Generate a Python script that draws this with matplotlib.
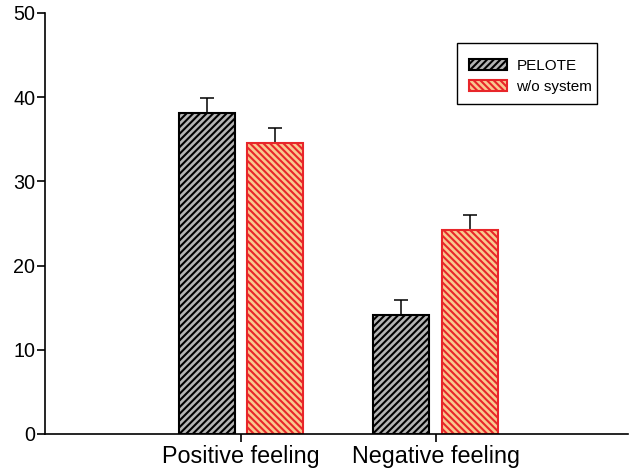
import matplotlib
matplotlib.use("Agg")
import matplotlib.pyplot as plt
from matplotlib.patches import Rectangle
import numpy as np

plt.rcParams["font.family"] = ["Liberation Sans", "DejaVu Sans"]
plt.rcParams["hatch.linewidth"] = 1.5

categories = ["Positive feeling", "Negative feeling"]
pelote = [38.1, 14.1]
pelote_err = [1.8, 1.8]
wo_system = [34.5, 24.2]
wo_err = [1.8, 1.8]

x = np.array([1, 2])
w = 0.288
off = 0.175

fig = plt.figure(figsize=(6.31, 4.70), dpi=100)
ax = fig.add_axes([0.0713, 0.0766, 0.924, 0.896])

ax.bar(x - off, pelote, width=w, color="#b4b4b4", edgecolor="black",
       hatch="/////", linewidth=1.5, label="PELOTE", zorder=2)
ax.bar(x + off, wo_system, width=w, color="#f9c88f", edgecolor="#e8262a",
       hatch="\\\\\\\\\\", linewidth=1.5, label="w/o system", zorder=2)

ax.errorbar(x - off, pelote, yerr=[[0, 0], pelote_err], fmt="none",
            ecolor="black", elinewidth=1.1, capsize=4.7, capthick=1.1, zorder=1)
ax.errorbar(x + off, wo_system, yerr=[[0, 0], wo_err], fmt="none",
            ecolor="black", elinewidth=1.1, capsize=4.7, capthick=1.1, zorder=1)

ax.set_xlim(-0.008, 2.99)
ax.set_ylim(0, 50)
ax.set_yticks([0, 10, 20, 30, 40, 50])
ax.set_xticks(x)
ax.set_xticklabels(categories, fontsize=16.8)
ax.tick_params(axis="y", labelsize=14.2, length=6, width=1.2, direction="out", pad=1)
ax.tick_params(axis="x", length=6, width=1.2, direction="out", pad=2)

ax.spines["top"].set_visible(False)
ax.spines["right"].set_visible(False)
ax.spines["left"].set_linewidth(1.2)
ax.spines["bottom"].set_linewidth(1.2)

# legend box drawn by hand (tight on the right like the original)
ax.add_patch(Rectangle((0.7067, 0.7838), 0.2401, 0.1449, transform=ax.transAxes,
                       facecolor="white", edgecolor="black", linewidth=1.0,
                       zorder=4, clip_on=False))
leg = ax.legend(loc="upper left", bbox_to_anchor=(0.7273, 0.891), borderaxespad=0,
                fontsize=11, frameon=False, borderpad=0,
                handlelength=2.5, handleheight=0.75,
                handletextpad=0.6, labelspacing=0.45)
leg.set_zorder(5)

fig.savefig("out.png", dpi=100)
